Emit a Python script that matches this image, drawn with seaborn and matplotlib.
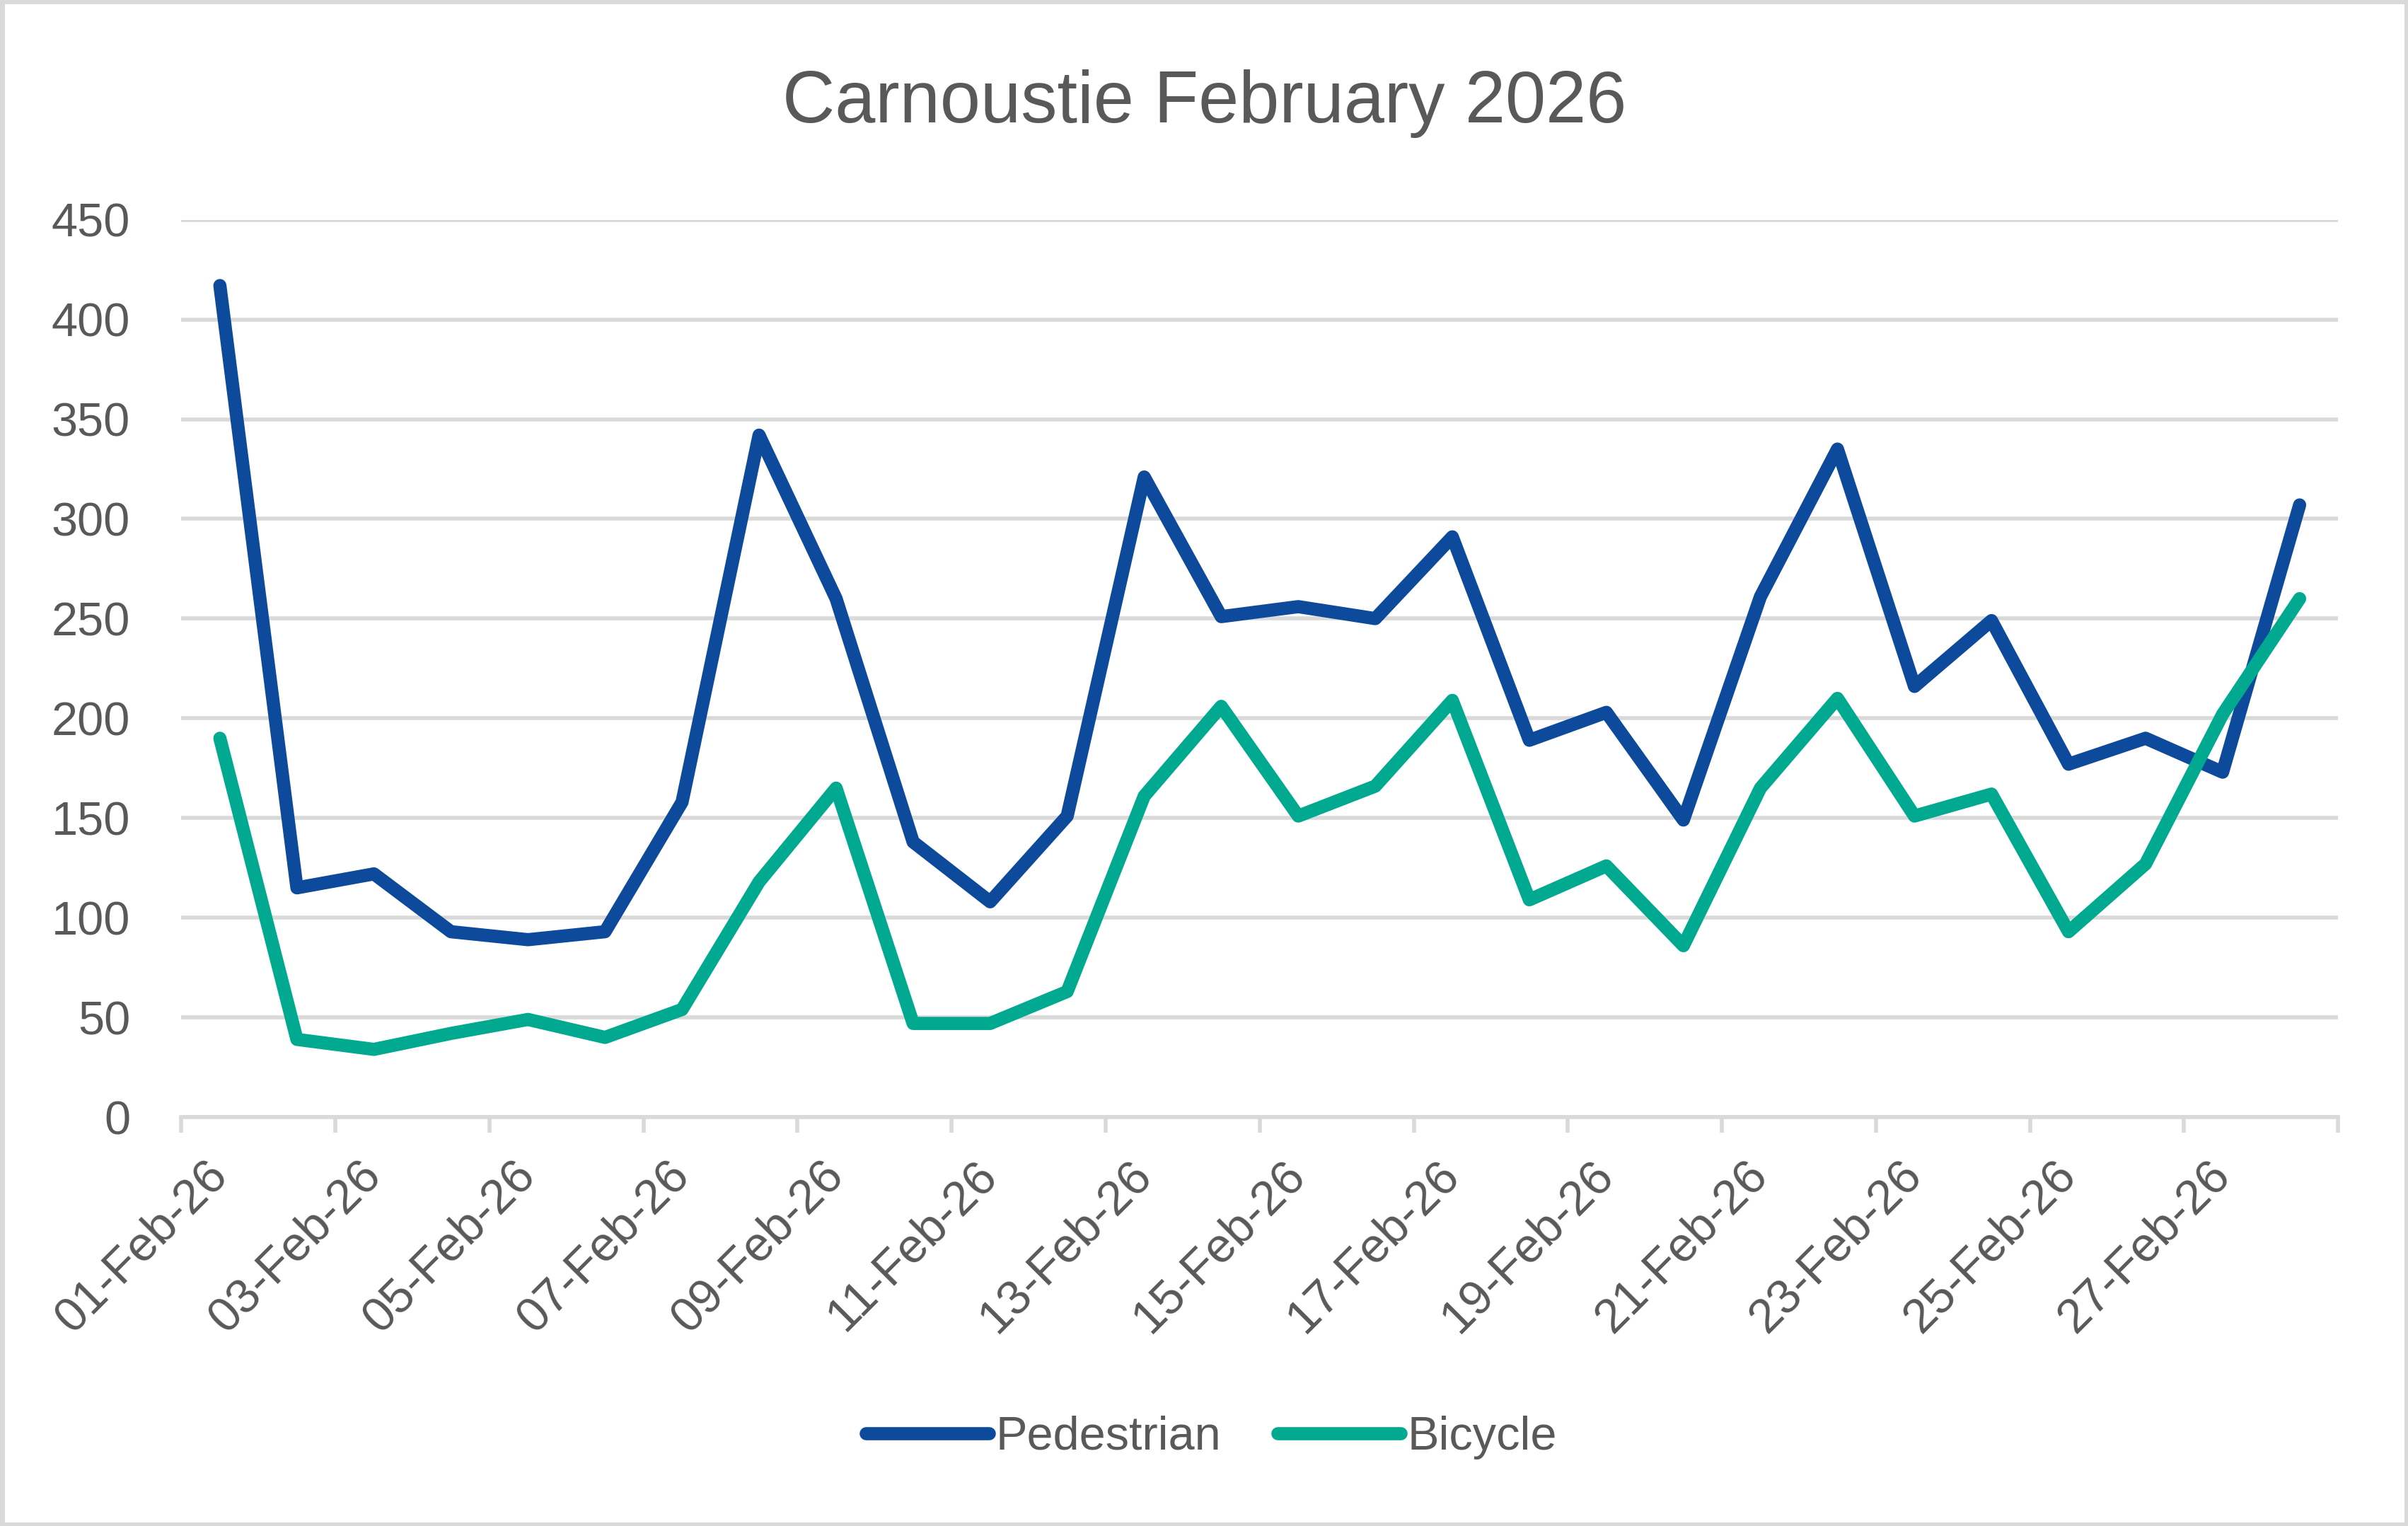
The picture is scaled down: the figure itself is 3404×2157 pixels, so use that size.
import pandas as pd
import numpy as np
import matplotlib
matplotlib.use("Agg")
import matplotlib.pyplot as plt
import seaborn as sns
from matplotlib.patches import Rectangle


# Daily counts, 1-28 Feb 2026
days = pd.date_range("2026-02-01", "2026-02-28", freq="D")
day_labels = [d.strftime("%d-%b-%y") for d in days]

pedestrian = [417, 115, 122, 93, 89, 93, 158, 342, 260, 138, 108, 151, 321, 251,
              256, 250, 291, 189, 203, 149, 261, 335, 216, 249, 177, 190, 173, 307]
bicycle = [190, 39, 34, 42, 49, 40, 54, 118, 165, 47, 47, 63, 161, 206,
           151, 166, 209, 109, 126, 86, 165, 210, 151, 162, 93, 127, 202, 260]

series_names = ["Pedestrian", "Bicycle"]
series_colors = ["#0D4A9B", "#00A98F"]
y_ticks = [0, 50, 100, 150, 200, 250, 300, 350, 400, 450]

TEXT = "#595959"
GRID = "#D9D9D9"
LW = 6.7


def main():
    df = pd.DataFrame({
        "pos": list(range(len(days))) * 2,
        "count": pedestrian + bicycle,
        "Series": [series_names[0]] * len(days) + [series_names[1]] * len(days),
    })

    sns.set_theme(style="white")
    plt.rcParams["font.family"] = ["Liberation Sans", "DejaVu Sans"]

    fig = plt.figure(figsize=(17.025, 10.785), dpi=200)
    ax = fig.add_axes([0.0753, 0.2679, 0.8954, 0.5881])

    sns.lineplot(data=df, x="pos", y="count", hue="Series", hue_order=series_names,
                 palette=series_colors, linewidth=LW, ax=ax, legend=False,
                 solid_capstyle="round", solid_joinstyle="round", zorder=3)

    # axes / grid
    ax.set_xlim(-0.5, len(days) - 0.5)
    ax.set_ylim(0, 450)
    ax.set_yticks(y_ticks)
    ax.set_yticklabels([str(v) for v in y_ticks])
    ax.yaxis.grid(True, color=GRID, linewidth=2.0)
    ax.set_axisbelow(True)
    for side in ["top", "right", "left"]:
        ax.spines[side].set_visible(False)
    ax.spines["bottom"].set_color(GRID)
    ax.spines["bottom"].set_linewidth(2.0)
    ax.tick_params(axis="y", length=0, pad=26, labelsize=24, labelcolor=TEXT)

    # labels on every other day, tick marks on category boundaries
    label_pos = list(range(0, len(days), 2))
    ax.set_xticks(label_pos)
    ax.set_xticklabels([day_labels[i] for i in label_pos], rotation=45,
                       ha="right", va="center", rotation_mode="anchor")
    ax.set_xticks(np.arange(-0.5, len(days), 2), minor=True)
    ax.tick_params(axis="x", which="major", bottom=True, length=0, pad=26,
                   labelsize=24.5, labelcolor=TEXT)
    ax.tick_params(axis="x", which="minor", bottom=True, length=8, width=2.0,
                   color=GRID)
    ax.set_xlabel("")
    ax.set_ylabel("")

    fig.text(0.5, 0.932, "Carnoustie February 2026", ha="center", va="center",
             fontsize=37, color=TEXT)

    handles = [plt.Line2D([], [], color=c, linewidth=LW, solid_capstyle="round")
               for c in series_colors]
    leg = fig.legend(handles, series_names, loc="center", bbox_to_anchor=(0.503, 0.058),
                     ncol=2, frameon=False, fontsize=24, handlelength=2.6,
                     handletextpad=0.15, columnspacing=1.2)
    for t in leg.get_texts():
        t.set_color(TEXT)

    # chart area border
    fig.patches.append(Rectangle((0.001, 0.001), 0.998, 0.998, transform=fig.transFigure,
                                 fill=False, edgecolor=GRID, linewidth=2.5))

    fig.savefig("out.png", dpi=200, facecolor="white")


if __name__ == "__main__":
    main()
